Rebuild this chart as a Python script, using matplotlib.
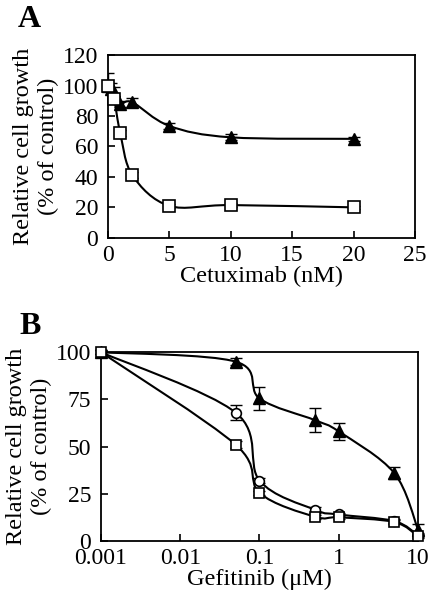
"""
Dose-response curves: cetuximab (A) and gefitinib (B)
"""
import numpy as np
import matplotlib
matplotlib.use('Agg')
import matplotlib.pyplot as plt
from matplotlib.path import Path
from matplotlib.patches import PathPatch

plt.rcParams['font.family'] = ['Liberation Serif', 'DejaVu Serif']
plt.rcParams['mathtext.fontset'] = 'stix'

# Panel A - cetuximab (nM)
cetux_tri_x = [0, 0.25, 0.5, 1, 2, 5, 10, 20]
cetux_tri_y = [100, 98, 96, 88, 89, 73.5, 66, 65]
cetux_tri_err = [8, 4, 3, 2, 3, 2, 2, 1.5]
cetux_sq_x = [0, 0.5, 1, 2, 5, 10, 20]
cetux_sq_y = [100, 91, 69, 41, 21, 21.5, 20]
cetux_sq_err = [2, 2, 2, 2, 1.5, 1.5, 1]

# Panel B - gefitinib (uM)
gef_x = [0.001, 0.05, 0.1, 0.5, 1, 5, 10]
gef_tri_y = [100, 95, 75.5, 64, 58, 36, 6]
gef_tri_err = [1, 2, 6, 6.5, 4.5, 3, 3]
gef_circ_y = [100, 68, 32, 16.5, 14, 10.5, 3]
gef_circ_err = [1, 4, 1.5, 1.5, 1, 1, 1]
gef_sq_y = [100, 51, 25.5, 12.8, 12.5, 10, 2.5]
gef_sq_err = [1, 2, 1, 1, 1, 1, 1]


def smooth_line(ax, x, y, logx=False, lw=1.5):
    # Excel style smoothed line: cubic bezier through the points
    x = np.asarray(x, float)
    y = np.asarray(y, float)
    if logx:
        x = np.log10(x)
    px = np.concatenate([[x[0]], x, [x[-1]]])
    py = np.concatenate([[y[0]], y, [y[-1]]])
    verts = [(x[0], y[0])]
    codes = [Path.MOVETO]
    for i in range(1, len(px) - 2):
        c1 = (px[i] + (px[i + 1] - px[i - 1]) / 6, py[i] + (py[i + 1] - py[i - 1]) / 6)
        c2 = (px[i + 1] - (px[i + 2] - px[i]) / 6, py[i + 1] - (py[i + 2] - py[i]) / 6)
        verts += [c1, c2, (px[i + 1], py[i + 1])]
        codes += [Path.CURVE4] * 3
    verts = np.array(verts)
    if logx:
        verts[:, 0] = 10 ** verts[:, 0]
    ax.add_patch(PathPatch(Path(verts, codes), fill=False, lw=lw,
                           edgecolor='black', zorder=2))


def style_axes(ax):
    ax.tick_params(direction='in', length=5, width=1.2, labelsize=17,
                   top=False, right=False)
    ax.tick_params(axis='y', pad=7)
    ax.tick_params(axis='x', pad=5)
    ax.tick_params(which='minor', length=0)
    for s in ax.spines.values():
        s.set_linewidth(1.3)


fig = plt.figure(figsize=(4.35, 5.99), dpi=100)

# ---- Panel A ----
ax1 = fig.add_axes([0.248, 0.603, 0.706, 0.305])
smooth_line(ax1, cetux_tri_x, cetux_tri_y)
smooth_line(ax1, cetux_sq_x, cetux_sq_y)
ax1.errorbar(cetux_tri_x, cetux_tri_y, yerr=cetux_tri_err, fmt='none',
             ecolor='black', elinewidth=1, capsize=4, zorder=3)
ax1.errorbar(cetux_sq_x, cetux_sq_y, yerr=cetux_sq_err, fmt='none',
             ecolor='black', elinewidth=1, capsize=4, zorder=3)
ax1.plot(cetux_tri_x, cetux_tri_y, '^', color='black', ms=8, zorder=4,
         clip_on=False)
ax1.plot(cetux_sq_x, cetux_sq_y, 's', mfc='white', mec='black', mew=1.2,
         ms=8, zorder=4, clip_on=False)
ax1.set_xlim(0, 25)
ax1.set_ylim(0, 120)
ax1.set_xticks([0, 5, 10, 15, 20, 25])
ax1.set_yticks([0, 20, 40, 60, 80, 100, 120])
ax1.set_xlabel('Cetuximab (nM)', fontsize=17.5, labelpad=0)
ax1.set_ylabel('Relative cell growth\n(% of control)', fontsize=17.5,
               linespacing=1.2, labelpad=3)
style_axes(ax1)
fig.text(0.04, 0.968, 'A', fontsize=23, fontweight='bold', va='center')

# ---- Panel B ----
ax2 = fig.add_axes([0.232, 0.097, 0.729, 0.315])
ax2.set_xscale('log')
smooth_line(ax2, gef_x, gef_tri_y, logx=True)
smooth_line(ax2, gef_x, gef_circ_y, logx=True)
smooth_line(ax2, gef_x, gef_sq_y, logx=True)
for yy, ee in [(gef_tri_y, gef_tri_err), (gef_circ_y, gef_circ_err),
               (gef_sq_y, gef_sq_err)]:
    ax2.errorbar(gef_x, yy, yerr=ee, fmt='none', ecolor='black',
                 elinewidth=1, capsize=4, zorder=3, clip_on=False)
ax2.plot(gef_x, gef_tri_y, '^', color='black', ms=8, zorder=4, clip_on=False)
ax2.plot(gef_x, gef_circ_y, 'o', mfc='white', mec='black', mew=1.2, ms=7,
         zorder=4, clip_on=False)
ax2.plot(gef_x, gef_sq_y, 's', mfc='white', mec='black', mew=1.2, ms=7,
         zorder=5, clip_on=False)
ax2.set_xlim(0.001, 10)
ax2.set_ylim(0, 100)
ax2.set_xticks([0.001, 0.01, 0.1, 1, 10])
ax2.set_xticklabels(['0.001', '0.01', '0.1', '1', '10'])
ax2.set_yticks([0, 25, 50, 75, 100])
ax2.set_xlabel('Gefitinib (\u03bcM)', fontsize=17.5, labelpad=0)
ax2.set_ylabel('Relative cell growth\n(% of control)', fontsize=17.5,
               linespacing=1.2, labelpad=3)
style_axes(ax2)
fig.text(0.045, 0.455, 'B', fontsize=23, fontweight='bold', va='center')

plt.savefig('out.png', dpi=100)
